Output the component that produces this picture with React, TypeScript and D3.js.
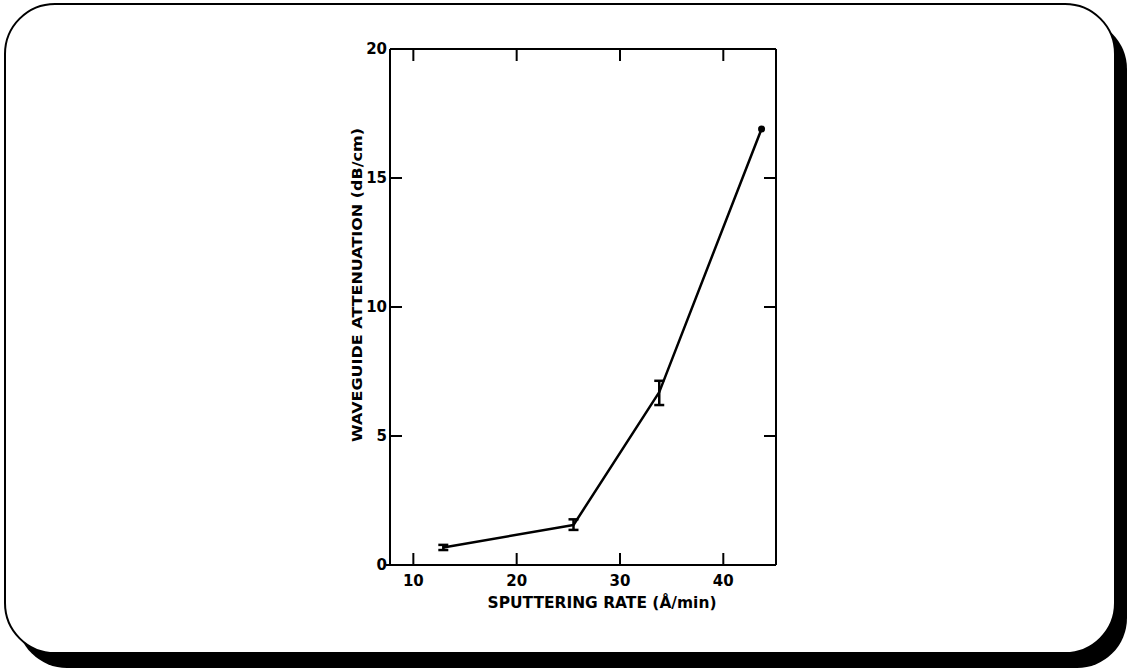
import React from "react";
import * as d3 from "d3";

// Measured sputtering rates (Å/min) and waveguide attenuation (dB/cm)
const sputterRate = [12.9, 25.5, 33.8, 43.7];
const attenuation = [0.68, 1.55, 6.7, 16.9];
const errLow = [0.58, 1.36, 6.2, NaN];
const errHigh = [0.78, 1.77, 7.14, NaN];

const xTicks = [10, 20, 30, 40];
const yTicks = [0, 5, 10, 15, 20];

const xTitle = "SPUTTERING RATE (Å/min)";
const yTitle = "WAVEGUIDE ATTENUATION (dB/cm)";

const W = 1127;
const H = 668;
const left = 390;
const right = 776;
const top = 49;
const bottom = 565;
const TICK = 12;
const FONT = "'DejaVu Sans', 'Liberation Sans', sans-serif";

export default function App() {
  const x = d3.scaleLinear().domain([7.74, 45.1]).range([left, right]);
  const y = d3.scaleLinear().domain([0, 20]).range([bottom, top]);

  const pts = sputterRate.map((r, i) => [r, attenuation[i]] as [number, number]);
  const line = d3
    .line<[number, number]>()
    .x((d) => x(d[0]))
    .y((d) => y(d[1]));

  return (
    <svg
      width={W}
      height={H}
      style={{ position: "absolute", left: 0, top: 0, background: "#fff" }}
    >
      {/* card with drop shadow */}
      <rect x={17} y={19} width={1110} height={649} rx={50} ry={50} fill="#000" />
      <rect
        x={5}
        y={4}
        width={1110}
        height={649}
        rx={50}
        ry={50}
        fill="#fff"
        stroke="#000"
        strokeWidth={2}
      />

      {/* axes box */}
      <g stroke="#000" strokeWidth={2} fill="none">
        <line x1={left} y1={top} x2={right} y2={top} />
        <line x1={left} y1={top} x2={left} y2={bottom} />
        <line x1={right} y1={top} x2={right} y2={bottom} />
        <line x1={left - 4} y1={bottom} x2={right} y2={bottom} />
        {xTicks.map((t) => (
          <g key={"xt" + t}>
            <line x1={x(t)} y1={bottom} x2={x(t)} y2={bottom - TICK} />
            <line x1={x(t)} y1={top} x2={x(t)} y2={top + TICK} />
          </g>
        ))}
        {yTicks
          .filter((t) => t > 0 && t < 20)
          .map((t) => (
            <g key={"yt" + t}>
              <line x1={left} y1={y(t)} x2={left + TICK} y2={y(t)} />
              <line x1={right} y1={y(t)} x2={right - TICK} y2={y(t)} />
            </g>
          ))}
      </g>

      {/* tick labels */}
      <g fontFamily={FONT} fontWeight="bold" fontSize={15} fill="#000">
        {xTicks.map((t) => (
          <text key={"xl" + t} x={x(t)} y={bottom + 21} textAnchor="middle">
            {t}
          </text>
        ))}
        {yTicks.map((t) => (
          <text
            key={"yl" + t}
            x={left - 3}
            y={y(t) + 5}
            textAnchor="end"
          >
            {t}
          </text>
        ))}
      </g>

      {/* axis titles */}
      <text
        x={602}
        y={608}
        textAnchor="middle"
        fontFamily={FONT}
        fontWeight="bold"
        fontSize={15}
        textLength={229}
        lengthAdjust="spacingAndGlyphs"
      >
        {xTitle}
      </text>
      <text
        transform={`translate(362,285) rotate(-90)`}
        textAnchor="middle"
        fontFamily={FONT}
        fontWeight="bold"
        fontSize={14}
        textLength={314}
        lengthAdjust="spacingAndGlyphs"
      >
        {yTitle}
      </text>

      {/* data line */}
      <path d={line(pts) ?? ""} fill="none" stroke="#000" strokeWidth={2.5} strokeLinejoin="round" />

      {/* error bars */}
      <g stroke="#000" strokeWidth={2.5}>
        {sputterRate.map((r, i) =>
          isNaN(errLow[i]) ? null : (
            <g key={"eb" + i}>
              <line x1={x(r)} y1={y(errLow[i])} x2={x(r)} y2={y(errHigh[i])} />
              <line x1={x(r) - 5} y1={y(errLow[i])} x2={x(r) + 5} y2={y(errLow[i])} />
              <line x1={x(r) - 5} y1={y(errHigh[i])} x2={x(r) + 5} y2={y(errHigh[i])} />
            </g>
          )
        )}
      </g>

      {/* single measurement without spread */}
      {sputterRate.map((r, i) =>
        isNaN(errLow[i]) ? (
          <circle key={"pt" + i} cx={x(r)} cy={y(attenuation[i])} r={3.5} fill="#000" />
        ) : null
      )}
    </svg>
  );
}
